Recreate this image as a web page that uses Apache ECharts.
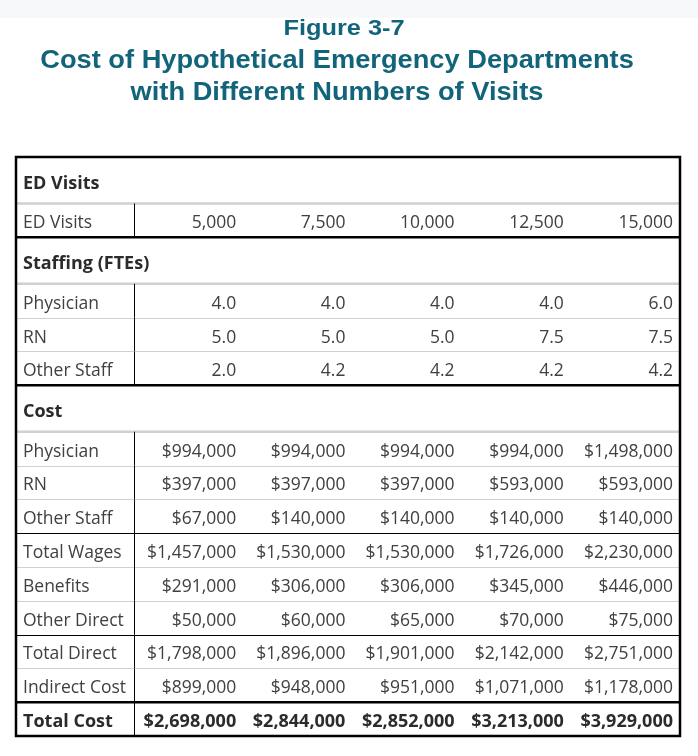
<!DOCTYPE html>
<html>
<head>
<meta charset="utf-8">
<script src="https://cdn.jsdelivr.net/npm/echarts@6/dist/echarts.min.js"></script>
<style>
html,body{margin:0;padding:0;background:#fff;}
#chart{width:698px;height:756px;}
</style>
</head>
<body>
<div id="chart"></div>
<script>
// ---------------- DATA ----------------
const figureLabel = 'Figure 3-7';
const titleLines = ['Cost of Hypothetical Emergency Departments', 'with Different Numbers of Visits'];
const sectionNames = ['ED Visits', 'Staffing (FTEs)', 'Cost'];
const visitRowLabels = ['ED Visits'];
const visits = [5000, 7500, 10000, 12500, 15000];
const staffRowLabels = ['Physician', 'RN', 'Other Staff'];
const staffPhysician = [4.0, 4.0, 4.0, 4.0, 6.0];
const staffRN = [5.0, 5.0, 5.0, 7.5, 7.5];
const staffOther = [2.0, 4.2, 4.2, 4.2, 4.2];
const costRowLabels = ['Physician', 'RN', 'Other Staff', 'Total Wages', 'Benefits', 'Other Direct', 'Total Direct', 'Indirect Cost', 'Total Cost'];
const costPhysician = [994000, 994000, 994000, 994000, 1498000];
const costRN = [397000, 397000, 397000, 593000, 593000];
const costOther = [67000, 140000, 140000, 140000, 140000];
const totalWages = [1457000, 1530000, 1530000, 1726000, 2230000];
const benefits = [291000, 306000, 306000, 345000, 446000];
const otherDirect = [50000, 60000, 65000, 70000, 75000];
const totalDirect = [1798000, 1896000, 1901000, 2142000, 2751000];
const indirectCost = [899000, 948000, 951000, 1071000, 1178000];
const totalCost = [2698000, 2844000, 2852000, 3213000, 3929000];

// ---------------- FORMATTERS ----------------
function commas(n) {
  const s = String(Math.round(n));
  return s.replace(/\B(?=(\d{3})+(?!\d))/g, ',');
}
const fmtInt = v => commas(v);
const fmtDec = v => v.toFixed(1);
const fmtUsd = v => '$' + commas(v);

// ---------------- LAYOUT / STYLE ----------------
const L = { headerH: 46.5, rowH: 33.8, labelW: 118, colW: 109.2, padL: 7, padR: 7 };
const TEXT = '#404040', HEAD = '#2b2b2b', GRAY = '#d0d0d0', BLACK = '#000';
const FONT = '"Open Sans", "Noto Sans", sans-serif';
const FS = 17.5, FS_BOLD = 18;
const TITLE_FONT = '"Liberation Sans", Arial, sans-serif';
const TITLE_COLOR = '#12647a';

// rows: kind, label, values, fmt, line style under row
const rows = [];
rows.push({ kind: 'head', label: sectionNames[0] });
rows.push({ kind: 'data', label: visitRowLabels[0], values: visits, fmt: fmtInt, line: 'thick' });
rows.push({ kind: 'head', label: sectionNames[1] });
[staffPhysician, staffRN, staffOther].forEach((vals, i) => {
  rows.push({ kind: 'data', label: staffRowLabels[i], values: vals, fmt: fmtDec, line: i === 2 ? 'thick' : 'gray' });
});
rows.push({ kind: 'head', label: sectionNames[2] });
const costSeries = [costPhysician, costRN, costOther, totalWages, benefits, otherDirect, totalDirect, indirectCost, totalCost];
const costLines = ['gray', 'gray', 'black', 'gray', 'gray', 'black', 'gray', 'thick', 'none'];
costSeries.forEach((vals, i) => {
  rows.push({ kind: 'data', label: costRowLabels[i], values: vals, fmt: fmtUsd, line: costLines[i], bold: i === costSeries.length - 1 });
});

// cumulative positions in axis units
let acc = 0;
const rowData = rows.map((r, i) => {
  const h = r.kind === 'head' ? L.headerH : L.rowH;
  const item = [i, acc, acc + h];
  acc += h;
  return item;
});
const totalH = acc;
const nCols = visits.length;
const totalW = L.labelW + nCols * L.colW;

function renderRow(params, api) {
  const i = api.value(0);
  const r = rows[i];
  const y0 = api.value(1), y1 = api.value(2);
  const p0 = api.coord([0, y0]);
  const p1 = api.coord([totalW, y1]);
  const top = p0[1], bot = p1[1], left = p0[0], right = p1[0];
  const midY = (top + bot) / 2;
  const children = [];
  if (r.kind === 'head') {
    children.push({
      type: 'text',
      style: { text: r.label, x: api.coord([L.padL, 0])[0], y: midY + 3.5, textAlign: 'left', textVerticalAlign: 'middle',
        font: 'bold ' + FS_BOLD + 'px ' + FONT, fill: HEAD }
    });
    children.push({ type: 'line', shape: { x1: left, y1: bot, x2: right, y2: bot }, style: { stroke: GRAY, lineWidth: 2.5 } });
  } else {
    const weight = r.bold ? 'bold ' + FS_BOLD : FS;
    const color = r.bold ? HEAD : TEXT;
    children.push({
      type: 'text',
      style: { text: r.label, x: api.coord([L.padL, 0])[0], y: midY + 3, textAlign: 'left', textVerticalAlign: 'middle',
        font: weight + 'px ' + FONT, fill: color }
    });
    r.values.forEach((v, j) => {
      const xr = api.coord([L.labelW + (j + 1) * L.colW - L.padR, 0])[0];
      children.push({
        type: 'text',
        style: { text: r.fmt(v), x: xr, y: midY + 3, textAlign: 'right', textVerticalAlign: 'middle',
          font: weight + 'px ' + FONT, fill: color }
      });
    });
    const xd = Math.round(api.coord([L.labelW, 0])[0]) + 0.5;
    children.push({ type: 'line', shape: { x1: xd, y1: top, x2: xd, y2: bot }, style: { stroke: BLACK, lineWidth: 1 } });
    if (r.line === 'gray') {
      const yy = Math.round(bot) + 0.5;
      children.push({ type: 'line', shape: { x1: left, y1: yy, x2: right, y2: yy }, style: { stroke: GRAY, lineWidth: 1 } });
    } else if (r.line === 'black') {
      const yy = Math.round(bot) + 0.5;
      children.push({ type: 'line', shape: { x1: left, y1: yy, x2: right, y2: yy }, style: { stroke: BLACK, lineWidth: 1.2 } });
    } else if (r.line === 'thick') {
      children.push({ type: 'line', shape: { x1: left, y1: bot, x2: right, y2: bot }, style: { stroke: BLACK, lineWidth: 2.5 } });
    }
  }
  return { type: 'group', children: children };
}

function renderFrame(params, api) {
  const p0 = api.coord([0, 0]);
  const p1 = api.coord([totalW, totalH]);
  return {
    type: 'rect',
    shape: { x: p0[0], y: p0[1], width: p1[0] - p0[0], height: p1[1] - p0[1] },
    style: { fill: 'none', stroke: BLACK, lineWidth: 2.5 }
  };
}

const chart = echarts.init(document.getElementById('chart'), null, { renderer: 'canvas' });
chart.setOption({
  animation: false,
  backgroundColor: '#ffffff',
  graphic: [
    { type: 'rect', left: 0, top: 0, shape: { width: 698, height: 18 }, style: { fill: '#f7f8fa' }, silent: true },
    { type: 'text', x: 344, y: 29, scaleX: 1.18, style: { text: figureLabel, textAlign: 'center', textVerticalAlign: 'middle',
      font: 'bold 21.5px ' + TITLE_FONT, fill: TITLE_COLOR } },
    { type: 'text', x: 337, y: 61.5, scaleX: 1.09, style: { text: titleLines[0], textAlign: 'center', textVerticalAlign: 'middle',
      font: 'bold 25px ' + TITLE_FONT, fill: TITLE_COLOR } },
    { type: 'text', x: 337, y: 93.5, scaleX: 1.09, style: { text: titleLines[1], textAlign: 'center', textVerticalAlign: 'middle',
      font: 'bold 25px ' + TITLE_FONT, fill: TITLE_COLOR } }
  ],
  grid: { left: 16, right: 698 - 16 - 664, top: 157, bottom: 756 - 157 - 579, containLabel: false },
  xAxis: { type: 'value', min: 0, max: totalW, show: false },
  yAxis: { type: 'value', min: 0, max: totalH, inverse: true, show: false },
  series: [
    { type: 'custom', renderItem: renderRow, data: rowData, encode: { x: -1, y: [1, 2] }, clip: false, silent: true },
    { type: 'custom', renderItem: renderFrame, data: [[0]], encode: { x: -1, y: -1 }, clip: false, silent: true, z: 10 }
  ]
});
</script>
</body>
</html>
